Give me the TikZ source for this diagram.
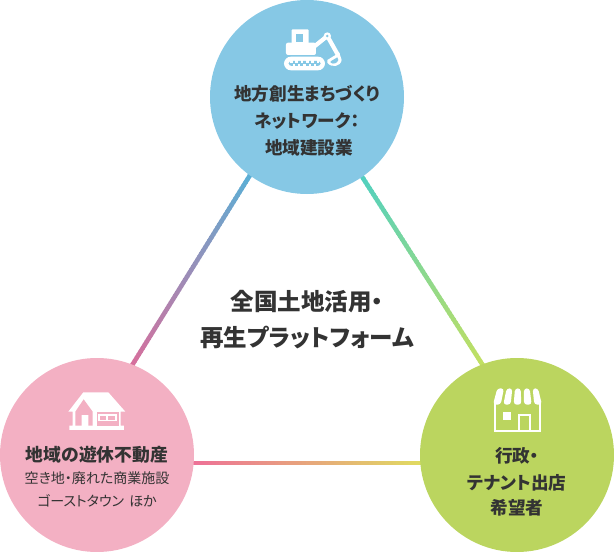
\documentclass[tikz,border=0pt]{standalone}
\usepackage{fontspec}
\setmainfont[RawFeature=+palt]{Noto Sans CJK JP}
\usetikzlibrary{calc}
\definecolor{txt}{HTML}{333333}
\definecolor{cblue}{HTML}{86C8E5}
\definecolor{cpink}{HTML}{F3B0C3}
\definecolor{cgreen}{HTML}{BBD55F}
\definecolor{la}{HTML}{58B0D6}\definecolor{lb}{HTML}{D86E9C}
\definecolor{lc}{HTML}{50D0C0}\definecolor{ld}{HTML}{C4E060}
\definecolor{le}{HTML}{EE6E98}\definecolor{lf}{HTML}{E0DC60}
\tikzset{
  hub/.style={circle,minimum size=194pt,inner sep=0pt,fill=#1},
  lab/.style={text=txt,inner sep=0pt,font=\bfseries\fontsize{#1}{#1}\selectfont},
  sublab/.style={text=txt,inner sep=0pt,font=\fontsize{#1}{#1}\selectfont}
}
\newcommand{\gradline}[4]{%
  \foreach \k in {0,...,59}{%
    \pgfmathsetmacro{\ta}{\k/60}\pgfmathsetmacro{\tb}{(\k+1.3)/60}\pgfmathsetmacro{\pc}{100-(\k+.5)/60*100}%
    \draw[line width=4.5pt,color=#3!\pc!#4] ($(#1)!\ta!(#2)$) -- ($(#1)!\tb!(#2)$);}%
}
\begin{document}
\begin{tikzpicture}[x=1pt,y=-1pt]
\useasboundingbox (0,0) rectangle (614,552);
\coordinate (a1) at (252,172);\coordinate (a2) at (131,367);
\coordinate (b1) at (361,175);\coordinate (b2) at (484,367);
\coordinate (c1) at (188,463);\coordinate (c2) at (424,463);
\gradline{a1}{a2}{la}{lb}
\gradline{b1}{b2}{lc}{ld}
\gradline{c1}{c2}{le}{lf}
\node[hub=cblue] (top) at (307,97) {};
\node[hub=cpink] (left) at (97,455) {};
\node[hub=cgreen] (right) at (517,455) {};
% excavator (crop coords)
\begin{scope}[shift={(210,0)},x=.3333pt,y=-.3333pt]
 \fill[white,rounded corners=1pt] (245,88) rectangle (296,135);
 \fill[cblue] (258,103) rectangle (280,126);
 \fill[white,rounded corners=2pt] (228,128) rectangle (318,165);
 \draw[white,line width=4.2pt,line join=round] (300,150) -- (352,108) -- (384,165);
 \fill[white] (352,108) circle (11);
 \fill[cblue] (352,108) circle (4);
 \fill[white] (352,180) -- (388,158) -- (395,180) .. controls (392,200) and (365,205) .. (352,188) -- cycle;
 \fill[cblue] (362,184) -- (382,172) -- (385,180) .. controls (382,190) and (370,194) .. (362,188) -- cycle;
 \fill[white,rounded corners=7pt] (222,170) rectangle (345,211);
 \fill[cblue,rounded corners=3pt] (236,183) rectangle (332,198);
 \foreach \q in {240,256,272,288,304,320}{\fill[white] (\q,181) rectangle (\q+8,190);}
 \foreach \q in {248,264,280,296,312}{\fill[white] (\q,191) rectangle (\q+7,200);}
\end{scope}
% house
\begin{scope}[shift={(0,360)},x=.3333pt,y=-.3333pt]
 \fill[white] (250,97) -- (325,97) -- (376,155) -- (362,155) -- (362,197) -- (372,197) -- (372,210) -- (208,210) -- (208,197) -- (218,197) -- (218,155) -- (205,155) -- cycle;
 \fill[cpink] (226,155) -- (251,118) -- (278,155) -- (278,197) -- (265,197) -- (265,165) -- (245,165) -- (245,197) -- (226,197) -- cycle;
 \fill[cpink] (290,157) rectangle (357,197);
 \fill[white] (295,162) rectangle (350,183);
 \fill[cpink] (300,167) rectangle (318,179);
 \fill[cpink] (325,167) rectangle (345,179);
\end{scope}
% store
\begin{scope}[shift={(414,360)},x=.3333pt,y=-.3333pt]
 \draw[white,line width=2pt] (243,125) -- (243,213) -- (379,213) -- (379,125);
 \fill[white] (268,155) rectangle (292,180);
 \draw[white,line width=2pt] (316,213) -- (316,166) -- (347,166) -- (347,213);
 \fill[white,rounded corners=3pt] (250,85) -- (270,85) -- (260,134) -- (237,134) -- cycle;
 \fill[white,rounded corners=3pt] (278,85) -- (295,85) -- (290,134) -- (268,134) -- cycle;
 \fill[white,rounded corners=3pt] (303,85) -- (320,85) -- (322,134) -- (299,134) -- cycle;
 \fill[white,rounded corners=3pt] (330,85) -- (347,85) -- (353,134) -- (330,134) -- cycle;
 \fill[white,rounded corners=3pt] (356,85) -- (372,85) -- (384,134) -- (361,134) -- cycle;
\end{scope}
% texts
\node[lab=17.6] (t1) at (307,94) {地方創生まちづくり};
\node[lab=17.6] (t2) at (307,121) {ネットワーク：};
\node[lab=17.6] (t3) at (309,148) {地域建設業};
\node[lab=23.5] (m1) at (307,302) {全国土地活用・};
\node[lab=23.5] (m2) at (307,338) {再生プラットフォーム};
\node[lab=17.8] (l1) at (97,455) {地域の遊休不動産};
\node[sublab=14] (l2) at (97,478) {空き地・廃れた商業施設};
\node[sublab=14] (l3) at (97,501) {ゴーストタウン\hspace{5pt}ほか};
\node[lab=17.6] (r1) at (517,456) {行政・};
\node[lab=17.6] (r2) at (517,483) {テナント出店};
\node[lab=17.6] (r3) at (517,508) {希望者};
\end{tikzpicture}
\end{document}
